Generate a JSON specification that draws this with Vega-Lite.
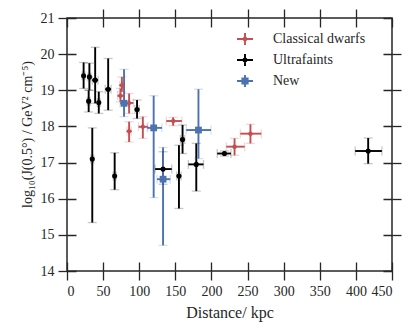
{
  "$schema": "https://vega.github.io/schema/vega-lite/v6.json",
  "width": 325,
  "height": 253,
  "autosize": {"type": "none"},
  "padding": {"left": 67, "top": 18, "right": 23, "bottom": 64},
  "background": "white",
  "config": {
    "view": {"stroke": "#262626", "strokeWidth": 1.5},
    "font": "Liberation Serif",
    "axis": {
      "domain": false,
      "ticks": true,
      "tickColor": "#262626",
      "tickOpacity": 1,
      "tickWidth": 1.3,
      "tickSize": 9,
      "grid": false,
      "labelFont": "Liberation Serif",
      "labelFontSize": 14,
      "labelColor": "#262626",
      "titleFont": "Liberation Serif",
      "titleFontWeight": "normal",
      "titleColor": "#262626"
    }
  },
  "resolve": {"axis": {"x": "independent", "y": "independent"}},
  "data": {
    "values": [
      {"g": "Ultrafaints", "d": 23, "dlo": 21, "dhi": 25, "j": 19.40, "jlo": 19.05, "jhi": 19.77},
      {"g": "Ultrafaints", "d": 31, "dlo": 29, "dhi": 33, "j": 19.37, "jlo": 19.0, "jhi": 19.75},
      {"g": "Ultrafaints", "d": 30, "dlo": 28, "dhi": 32, "j": 18.70, "jlo": 18.40, "jhi": 19.0},
      {"g": "Ultrafaints", "d": 39, "dlo": 35, "dhi": 43, "j": 19.28, "jlo": 18.64, "jhi": 20.19},
      {"g": "Ultrafaints", "d": 44, "dlo": 42, "dhi": 46, "j": 18.66, "jlo": 18.36, "jhi": 18.96},
      {"g": "Ultrafaints", "d": 57, "dlo": 53, "dhi": 61, "j": 19.03, "jlo": 18.45, "jhi": 19.88},
      {"g": "Ultrafaints", "d": 35, "dlo": 33, "dhi": 37, "j": 17.10, "jlo": 15.34, "jhi": 17.96},
      {"g": "Ultrafaints", "d": 66, "dlo": 64, "dhi": 68, "j": 16.63, "jlo": 16.25, "jhi": 17.27},
      {"g": "Ultrafaints", "d": 97, "dlo": 94, "dhi": 100, "j": 18.47, "jlo": 18.22, "jhi": 18.73},
      {"g": "Ultrafaints", "d": 133, "dlo": 122, "dhi": 145, "j": 16.82, "jlo": 16.4, "jhi": 17.3},
      {"g": "Ultrafaints", "d": 155, "dlo": 152, "dhi": 158, "j": 16.63, "jlo": 15.73, "jhi": 17.48},
      {"g": "Ultrafaints", "d": 160, "dlo": 157, "dhi": 163, "j": 17.64, "jlo": 17.25, "jhi": 18.04},
      {"g": "Ultrafaints", "d": 179, "dlo": 168, "dhi": 189, "j": 16.95, "jlo": 16.21, "jhi": 17.53},
      {"g": "Ultrafaints", "d": 218, "dlo": 208, "dhi": 227, "j": 17.25, "jlo": 17.18, "jhi": 17.32},
      {"g": "Ultrafaints", "d": 417, "dlo": 399, "dhi": 436, "j": 17.32, "jlo": 16.97, "jhi": 17.68},
      {"g": "Classical dwarfs", "d": 76, "dlo": 73, "dhi": 79, "j": 19.14, "jlo": 18.96, "jhi": 19.37},
      {"g": "Classical dwarfs", "d": 74, "dlo": 70, "dhi": 79, "j": 18.85, "jlo": 18.68, "jhi": 19.05},
      {"g": "Classical dwarfs", "d": 86, "dlo": 80, "dhi": 92, "j": 18.65, "jlo": 18.36, "jhi": 18.91},
      {"g": "Classical dwarfs", "d": 86, "dlo": 83, "dhi": 89, "j": 17.87, "jlo": 17.57, "jhi": 18.13},
      {"g": "Classical dwarfs", "d": 105, "dlo": 99, "dhi": 112, "j": 17.99, "jlo": 17.67, "jhi": 18.27},
      {"g": "Classical dwarfs", "d": 147, "dlo": 137.5, "dhi": 159, "j": 18.15, "jlo": 18.02, "jhi": 18.25},
      {"g": "Classical dwarfs", "d": 232, "dlo": 220.5, "dhi": 246, "j": 17.44, "jlo": 17.2, "jhi": 17.67},
      {"g": "Classical dwarfs", "d": 254, "dlo": 240, "dhi": 269, "j": 17.80, "jlo": 17.53, "jhi": 18.06},
      {"g": "New", "d": 79, "dlo": 73.5, "dhi": 85, "j": 18.64, "jlo": 18.27, "jhi": 19.58},
      {"g": "New", "d": 120, "dlo": 111, "dhi": 131.5, "j": 17.96, "jlo": 16.03, "jhi": 18.85},
      {"g": "New", "d": 133, "dlo": 124.6, "dhi": 143, "j": 16.54, "jlo": 14.71, "jhi": 17.42},
      {"g": "New", "d": 182, "dlo": 165, "dhi": 199.4, "j": 17.90, "jlo": 17.11, "jhi": 19.03}
    ]
  },
  "layer": [
    {
      "mark": {"type": "rule", "strokeWidth": 1.9},
      "encoding": {
        "x": {"field": "d", "type": "quantitative", "scale": {"domain": [0, 450], "nice": false, "zero": false},
          "axis": {"orient": "bottom", "values": [0, 50, 100, 150, 200, 250, 300, 350, 400, 450], "grid": true, "gridColor": "#262626", "gridOpacity": 1, "gridWidth": 1.3, "gridDash": [9, 235, 9, 600], "labelPadding": 4, "title": "Distance/ kpc", "titleFontSize": 16, "titlePadding": 6}},
        "y": {"field": "jlo", "type": "quantitative", "scale": {"domain": [14, 21], "nice": false, "zero": false},
          "axis": {"orient": "left", "values": [14, 15, 16, 17, 18, 19, 20, 21], "grid": true, "gridColor": "#262626", "gridOpacity": 1, "gridWidth": 1.3, "gridDash": [9, 307, 9, 600], "labelPadding": 4, "title": "log₁₀(J(0.5°) / GeV² cm⁻⁵)", "titleFontSize": 14, "titlePadding": 6, "titleY": 116}},
        "y2": {"field": "jhi"},
        "color": {"field": "g", "type": "nominal", "scale": {"domain": ["Classical dwarfs", "Ultrafaints", "New"], "range": ["#C44E52", "#000000", "#4C72B0"]},
          "legend": {
            "orient": "none", "legendX": 170, "legendY": 13, "title": null, "padding": 0,
            "symbolSize": 256, "labelFontSize": 14, "labelFont": "Liberation Serif", "labelColor": "#262626",
            "labelOffset": 20, "rowPadding": 6,
            "encode": {"symbols": {"update": {
              "shape": {"signal": "datum.value === 'New' ? 'M-1,-0.12H1V0.12H-1Z M-0.12,-0.75H0.12V0.75H-0.12Z M-0.45,-0.45H0.45V0.45H-0.45Z' : datum.value === 'Ultrafaints' ? 'M-1,-0.12H1V0.12H-1Z M-0.12,-0.75H0.12V0.75H-0.12Z M0.32,0A0.32,0.32 0 1 1 -0.32,0A0.32,0.32 0 1 1 0.32,0Z' : 'M-1,-0.12H1V0.12H-1Z M-0.12,-0.75H0.12V0.75H-0.12Z M0,-0.4L0.4,0L0,0.4L-0.4,0Z'"},
              "size": {"value": 256},
              "fill": {"scale": "color", "field": "value"},
              "stroke": {"value": null},
              "strokeWidth": {"value": 0},
              "opacity": {"value": 1},
              "fillOpacity": {"value": 1}
            }}}
          }}
      }
    },
    {
      "mark": {"type": "rule", "strokeWidth": 1.9},
      "encoding": {
        "x": {"field": "dlo", "type": "quantitative",
          "axis": {"orient": "top", "values": [50, 100, 150, 200, 250, 300, 350, 400], "labels": false, "title": null}},
        "x2": {"field": "dhi"},
        "y": {"field": "j", "type": "quantitative",
          "axis": {"orient": "right", "values": [15, 16, 17, 18, 19, 20], "labels": false, "title": null}},
        "color": {"field": "g", "type": "nominal"}
      }
    },
    {
      "mark": {"type": "tick", "orient": "horizontal", "size": 9, "thickness": 1.3, "opacity": 0.22},
      "encoding": {
        "x": {"field": "d", "type": "quantitative", "axis": null},
        "y": {"field": "jlo", "type": "quantitative", "axis": null},
        "color": {"field": "g", "type": "nominal"}
      }
    },
    {
      "mark": {"type": "tick", "orient": "horizontal", "size": 9, "thickness": 1.3, "opacity": 0.22},
      "encoding": {
        "x": {"field": "d", "type": "quantitative", "axis": null},
        "y": {"field": "jhi", "type": "quantitative", "axis": null},
        "color": {"field": "g", "type": "nominal"}
      }
    },
    {
      "mark": {"type": "tick", "orient": "vertical", "size": 9, "thickness": 1.3, "opacity": 0.22},
      "encoding": {
        "x": {"field": "dlo", "type": "quantitative", "axis": null},
        "y": {"field": "j", "type": "quantitative", "axis": null},
        "color": {"field": "g", "type": "nominal"}
      }
    },
    {
      "mark": {"type": "tick", "orient": "vertical", "size": 9, "thickness": 1.3, "opacity": 0.22},
      "encoding": {
        "x": {"field": "dhi", "type": "quantitative", "axis": null},
        "y": {"field": "j", "type": "quantitative", "axis": null},
        "color": {"field": "g", "type": "nominal"}
      }
    },
    {
      "transform": [{"filter": "datum.g === 'Ultrafaints'"}],
      "mark": {"type": "point", "filled": true, "opacity": 1, "strokeWidth": 0, "shape": "circle", "size": 26},
      "encoding": {
        "x": {"field": "d", "type": "quantitative", "axis": null},
        "y": {"field": "j", "type": "quantitative", "axis": null},
        "color": {"field": "g", "type": "nominal"}
      }
    },
    {
      "transform": [{"filter": "datum.g === 'Classical dwarfs'"}],
      "mark": {"type": "point", "filled": true, "opacity": 1, "strokeWidth": 0, "shape": "diamond", "size": 36},
      "encoding": {
        "x": {"field": "d", "type": "quantitative", "axis": null},
        "y": {"field": "j", "type": "quantitative", "axis": null},
        "color": {"field": "g", "type": "nominal"}
      }
    },
    {
      "transform": [{"filter": "datum.g === 'New'"}],
      "mark": {"type": "point", "filled": true, "opacity": 1, "strokeWidth": 0, "shape": "square", "size": 46},
      "encoding": {
        "x": {"field": "d", "type": "quantitative", "axis": null},
        "y": {"field": "j", "type": "quantitative", "axis": null},
        "color": {"field": "g", "type": "nominal"}
      }
    }
  ]
}
